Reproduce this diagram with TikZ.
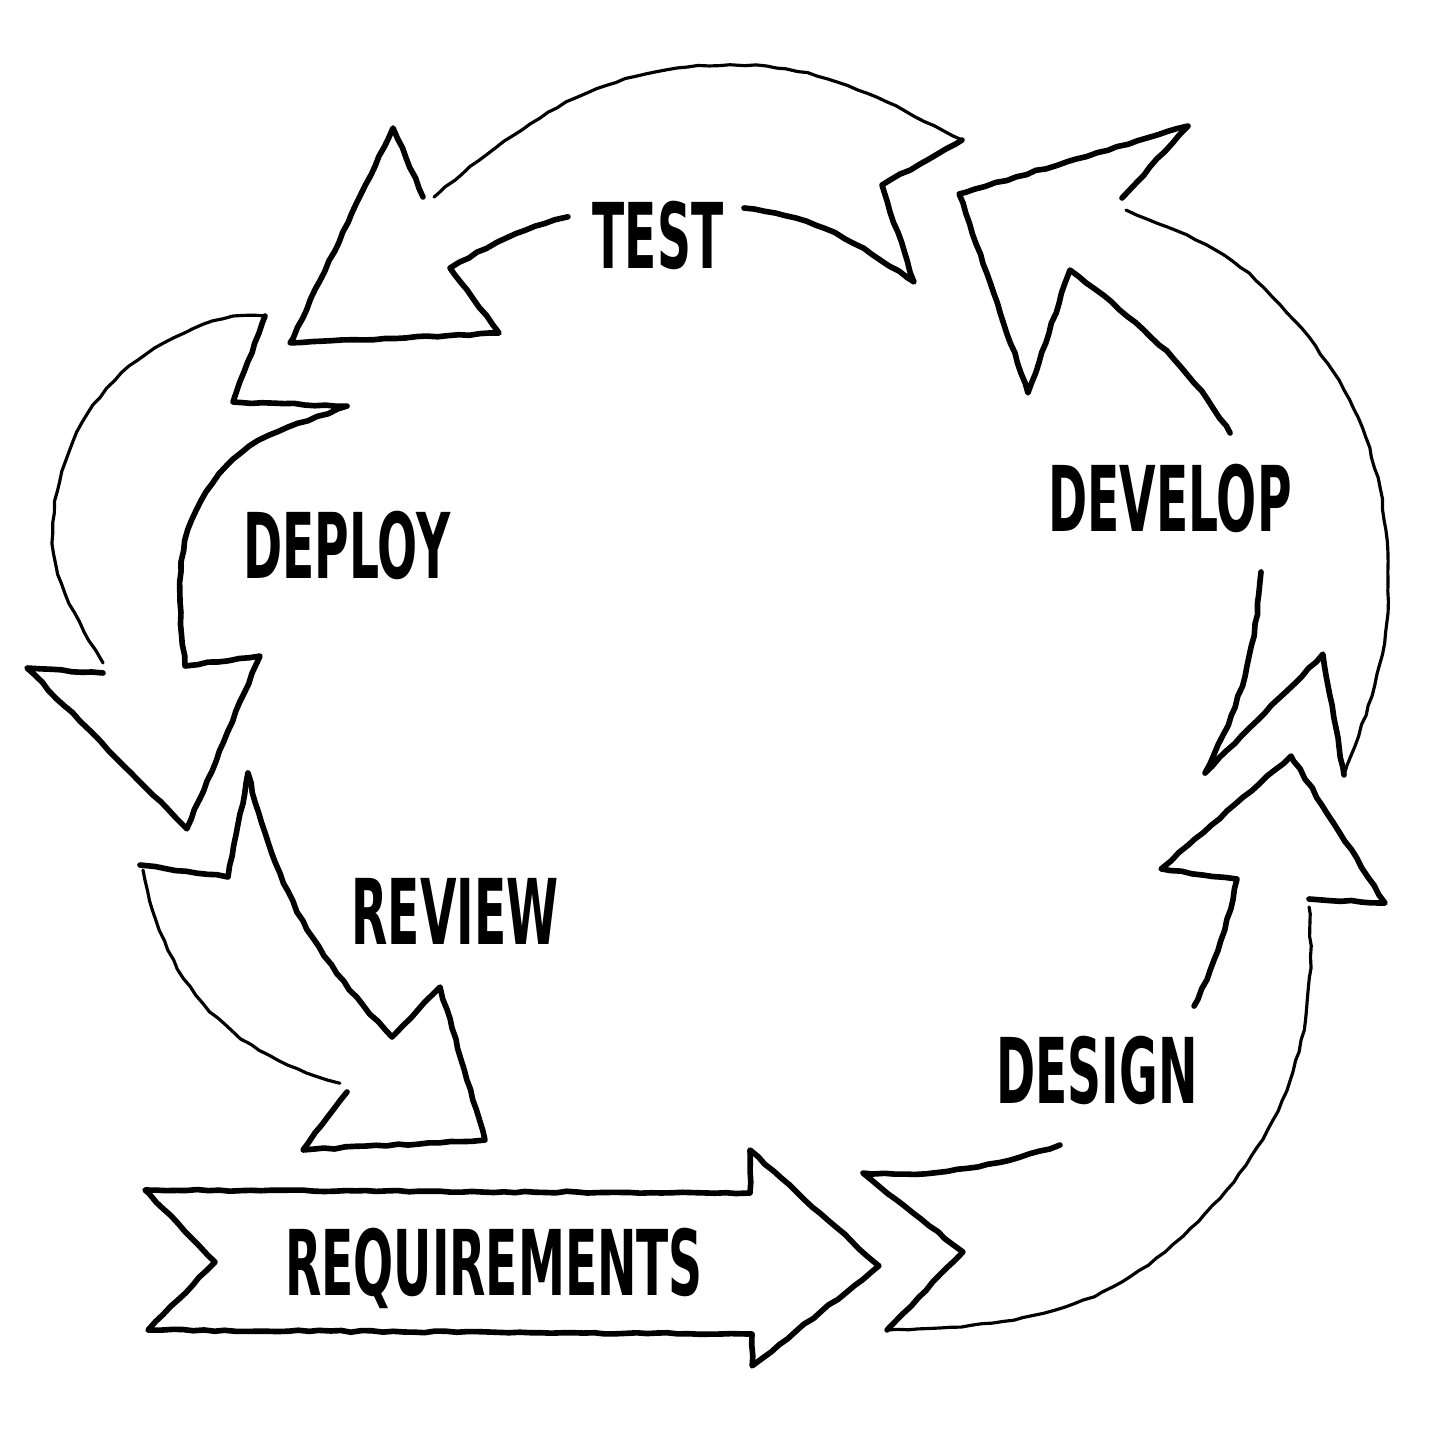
\documentclass[tikz,border=0pt]{standalone}
\usepackage{fontspec}
\usepackage{tikz}
\usetikzlibrary{decorations.pathmorphing}
\newfontfamily\stagefont{DejaVu Sans}[FakeStretch=0.52]

\begin{document}
\begin{tikzpicture}[x=0.01cm, y=-0.01cm]
\tikzstyle{rough}=[decorate, decoration={random steps, segment length=3pt, amplitude=0.25pt}]
\tikzstyle{heavy}=[rough, line width=1.6pt, line join=round, line cap=round]
\tikzstyle{light}=[rough, line width=0.9pt, line join=round, line cap=round]
\tikzstyle{stage}=[inner sep=0pt, text depth=0pt, font=\stagefont\bfseries\fontsize{25.8}{26}\selectfont]
\useasboundingbox (0,0) rectangle (1447,1448);

\node[stage] (test) at (658,235) {TEST};
\node[stage] (develop) at (1170,498) {DEVELOP};
\node[stage] (deploy) at (347,545) {DEPLOY};
\node[stage] (review) at (455,911) {REVIEW};
\node[stage] (design) at (1097,1070) {DESIGN};
\node[stage] (requirements) at (494,1262) {REQUIREMENTS};

\draw[heavy] (145,1190) -- (750,1193) -- (750,1150) -- (879,1266) -- (752,1366) -- (752,1334) -- (148,1330) -- (215,1262) -- cycle;

\draw[heavy] (1309,899) -- (1385,903) -- (1291,756) -- (1161,869) -- (1237,879) to[out=-102, in=63] (1194,1006);
\draw[heavy] (1060,1145) to[out=-163, in=-3] (863,1173) -- (963,1252) -- (887,1330);
\draw[light] (887,1330) to[out=2, in=-137] (1183,1236) to[out=43, in=-86] (1309,907);

\draw[heavy] (1122,198) -- (1188,126) -- (959,194) -- (1028,393) -- (1070,270) to[out=-38, in=122] (1230,433);
\draw[heavy] (1261,572) to[out=-94, in=63] (1205,773) -- (1323,654) -- (1344,775);
\draw[light] (1344,775) to[out=70, in=-90] (1388,583) to[out=90, in=-45] (1264,288) to[out=135, in=-23] (1126,210);

\draw[heavy] (423,197) -- (393,128) -- (290,343) -- (499,333) -- (450,268) to[out=29, in=-166] (568,217);
\draw[heavy] (744,208) to[out=-6, in=146] (914,282) -- (882,185) -- (962,140);
\draw[light] (962,140) to[out=153, in=0] (730,65) to[out=180, in=40] (434,197);

\draw[light] (265,316) -- (233,316) to[out=-166, in=86] (53,522) to[out=-94, in=120] (103,663);
\draw[heavy] (103,673) -- (27,668) -- (187,829) -- (260,656) -- (185,666) to[out=96, in=-125] (213,483) to[out=55, in=-158] (347,406) -- (233,402) -- (265,316);

\draw[light] (143,870) to[out=-80, in=166] (340,1083);
\draw[heavy] (347,1092) -- (303,1150) -- (485,1140) -- (440,987) -- (392,1037) to[out=134, in=-76] (248,773) -- (228,877) -- (140,865);
\end{tikzpicture}
\end{document}
